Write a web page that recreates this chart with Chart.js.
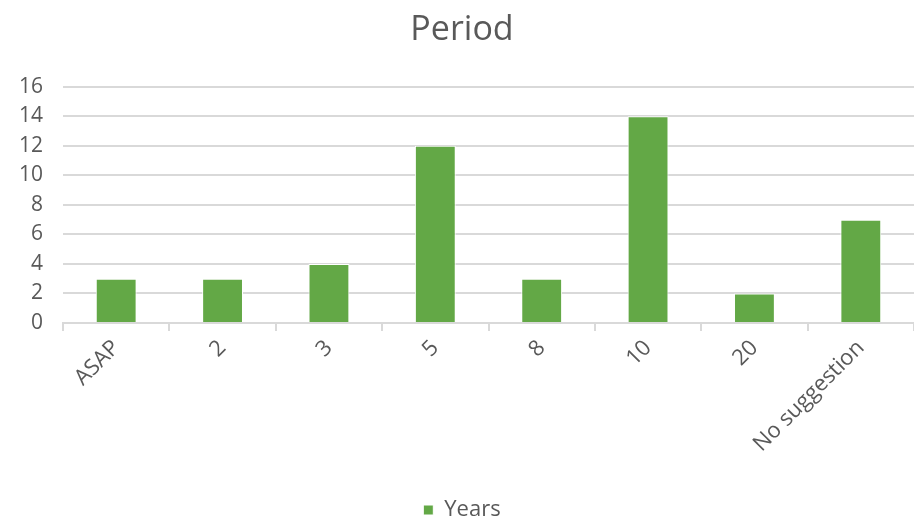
<!DOCTYPE html>
<html>
<head>
<meta charset="utf-8">
<script src="https://cdn.jsdelivr.net/npm/chart.js@4"></script>
<style>
  html, body { margin: 0; padding: 0; background: #fff; }
  #wrap { width: 914px; height: 520px; position: relative; }
</style>
</head>
<body>
<div id="wrap"><canvas id="periodChart"></canvas></div>
<script>
const categories = ["ASAP", "2", "3", "5", "8", "10", "20", "No suggestion"];
const years = [3, 3, 4, 12, 3, 14, 2, 7];
const yTicks = [0, 2, 4, 6, 8, 10, 12, 14, 16];

const fontFamily = "'Open Sans', 'DejaVu Sans', sans-serif";
const textColor = "#595959";
const gridColor = "#d9d9d9";

const ctx = document.getElementById("periodChart");

new Chart(ctx, {
  type: "bar",
  data: {
    labels: categories,
    datasets: [
      {
        label: "Years",
        data: years,
        backgroundColor: "#63a846",
        borderColor: "#ffffff",
        borderWidth: 1,
        categoryPercentage: 0.8,
        barPercentage: 0.48,
      },
    ],
  },
  options: {
    responsive: true,
    maintainAspectRatio: false,
    animation: false,
    layout: {
      padding: { left: 10, right: 0, top: 4, bottom: -11 },
    },
    plugins: {
      title: {
        display: true,
        text: "Period",
        color: textColor,
        font: { size: 34, family: fontFamily, weight: "normal" },
        padding: { top: 6, bottom: 36 },
      },
      legend: {
        display: true,
        position: "bottom",
        labels: {
          color: textColor,
          font: { size: 22, family: fontFamily, lineHeight: 1 },
          boxWidth: 10,
          boxHeight: 10,
          usePointStyle: true,
          pointStyle: "rect",
          padding: 2,
        },
      },
      tooltip: { enabled: false },
    },
    scales: {
      y: {
        min: 0,
        max: 16,
        afterBuildTicks: function (axis) {
          axis.ticks = yTicks.map(function (v) { return { value: v }; });
        },
        afterFit: function (axis) {
          axis.width = 53;
        },
        grid: {
          color: gridColor,
          lineWidth: 2,
          drawTicks: false,
        },
        border: { display: false },
        ticks: {
          color: textColor,
          font: { size: 21, family: fontFamily },
          padding: 20,
        },
      },
      x: {
        afterFit: function (axis) {
          axis.height = 174;
        },
        grid: {
          drawOnChartArea: false,
          drawTicks: true,
          tickLength: 8,
          color: gridColor,
          lineWidth: 2,
        },
        border: { color: gridColor, width: 2 },
        ticks: {
          color: textColor,
          font: { size: 22, family: fontFamily },
          maxRotation: 45,
          minRotation: 45,
          padding: 4,
        },
      },
    },
  },
});
</script>
</body>
</html>
